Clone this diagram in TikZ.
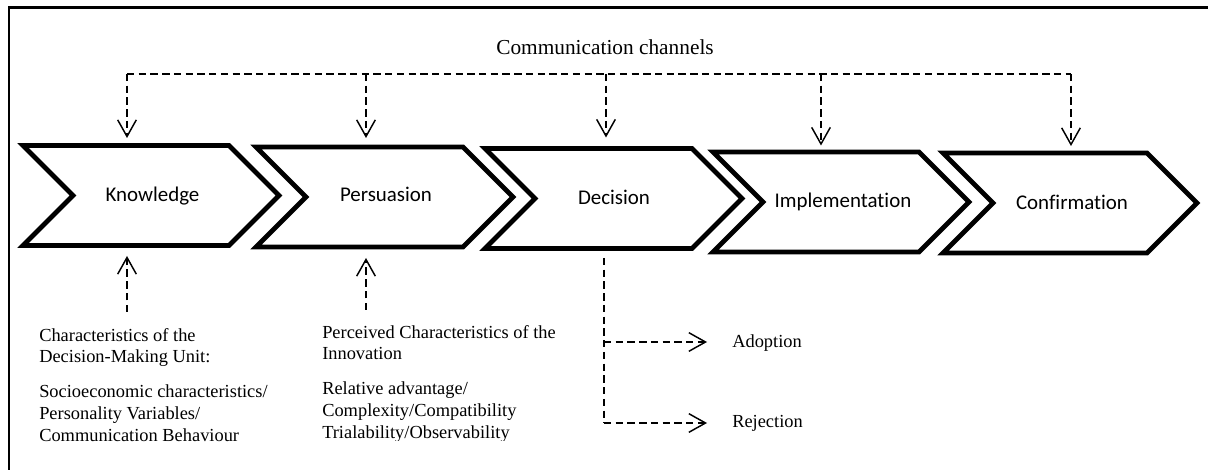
\documentclass[tikz,border=0pt]{standalone}
\usepackage{fontspec}
\setmainfont{Liberation Serif}
\newfontfamily\stagefont[Ligatures=NoCommon]{Carlito}
\usetikzlibrary{arrows.meta}

% chevron-shaped stage: #1 left x, #2 body right x, #3 middle y
\newcommand\stagechevron[3]{%
  \draw[stagebox] ({#1},{#3-50}) -- ({#2},{#3-50}) -- ({#2+50},{#3})
    -- ({#2},{#3+50}) -- ({#1},{#3+50}) -- ({#1+50},{#3}) -- cycle;}

\begin{document}
\begin{tikzpicture}[x=0.75pt,y=-0.75pt,
  stagebox/.style={line width=3.5pt,line join=miter,fill=white},
  stagetext/.style={font=\stagefont\fontsize{15.7}{18}\selectfont,anchor=base,inner sep=0pt},
  note/.style={font=\fontsize{13.8}{16}\selectfont,anchor=base west,inner sep=0pt},
  title/.style={font=\fontsize{16}{19}\selectfont,anchor=base,inner sep=0pt},
  link/.style={line width=1.1pt,dash pattern=on 5.5pt off 3.3pt},
  linkarrow/.style={link,-{Straight Barb[length=12.5pt,width=14pt,line width=1.1pt]}}]
\useasboundingbox (0,0) rectangle (1208,470);

% outer frame (left and top edges only)
\draw[line width=1.9pt,line join=miter] (9,471) -- (9,7.5) -- (1209,7.5);

% the five stages
\stagechevron{23}{229}{195.5}
\stagechevron{256}{463}{197}
\stagechevron{485}{692}{198.5}
\stagechevron{713}{919}{202}
\stagechevron{943}{1147}{203}

\node[stagetext] (knowledge) at (152.5,202) {Knowledge};
\node[stagetext] (persuasion) at (386,202) {Persuasion};
\node[stagetext] (decision) at (614,205) {Decision};
\node[stagetext] (implementation) at (843,208) {Implementation};
\node[stagetext] (confirmation) at (1072,210) {Confirmation};

% communication channels feeding every stage
\node[title] (channels) at (605,55) {Communication channels};
\coordinate (bus1) at (127,74);
\coordinate (bus2) at (366,74);
\coordinate (bus3) at (606,74);
\coordinate (bus4) at (821,74);
\coordinate (bus5) at (1071,74);
\coordinate (in1) at (127,138);
\coordinate (in2) at (366,138);
\coordinate (in3) at (606,137.5);
\coordinate (in4) at (821,145.5);
\coordinate (in5) at (1071,146);
\draw[link] (bus1) -- (bus5);
\foreach \i in {1,...,5} \draw[linkarrow] (bus\i) -- (in\i);

% prior conditions under Knowledge and Persuasion
\coordinate (ksrc) at (127,312);
\coordinate (kin) at (127,256);
\coordinate (psrc) at (366,310);
\coordinate (pin) at (366,258);
\draw[linkarrow] (ksrc) -- (kin);
\draw[linkarrow] (psrc) -- (pin);

\node[note] (k1) at (39,342) {Characteristics of the};
\node[note] (k2) at (39,363) {Decision-Making Unit:};
\node[note] (k3) at (39,398) {Socioeconomic characteristics/};
\node[note] (k4) at (39,420) {Personality Variables/};
\node[note] (k5) at (39,442) {Communication Behaviour};

\node[note] (p1) at (322,339) {Perceived Characteristics of the};
\node[note] (p2) at (322,360) {Innovation};
\node[note] (p3) at (322,395) {Relative advantage/};
\node[note] (p4) at (322,417) {Complexity/Compatibility};
\begin{scope}
  \clip (300,400) rectangle (600,440.5);
  \node[note] (p5) at (322,439) {Trialability/Observability};
\end{scope}

% outcomes of the decision
\coordinate (dsrc) at (604,258);
\coordinate (dmid) at (604,342);
\coordinate (dend) at (604,423);
\node[note] (adoption) at (732,348) {Adoption};
\node[note] (rejection) at (732,428) {Rejection};
\coordinate (adopt) at (707,342);
\coordinate (reject) at (707,423);
\draw[link] (dsrc) -- (dend);
\draw[linkarrow] (dmid) -- (adopt);
\draw[linkarrow] (dend) -- (reject);
\end{tikzpicture}
\end{document}
